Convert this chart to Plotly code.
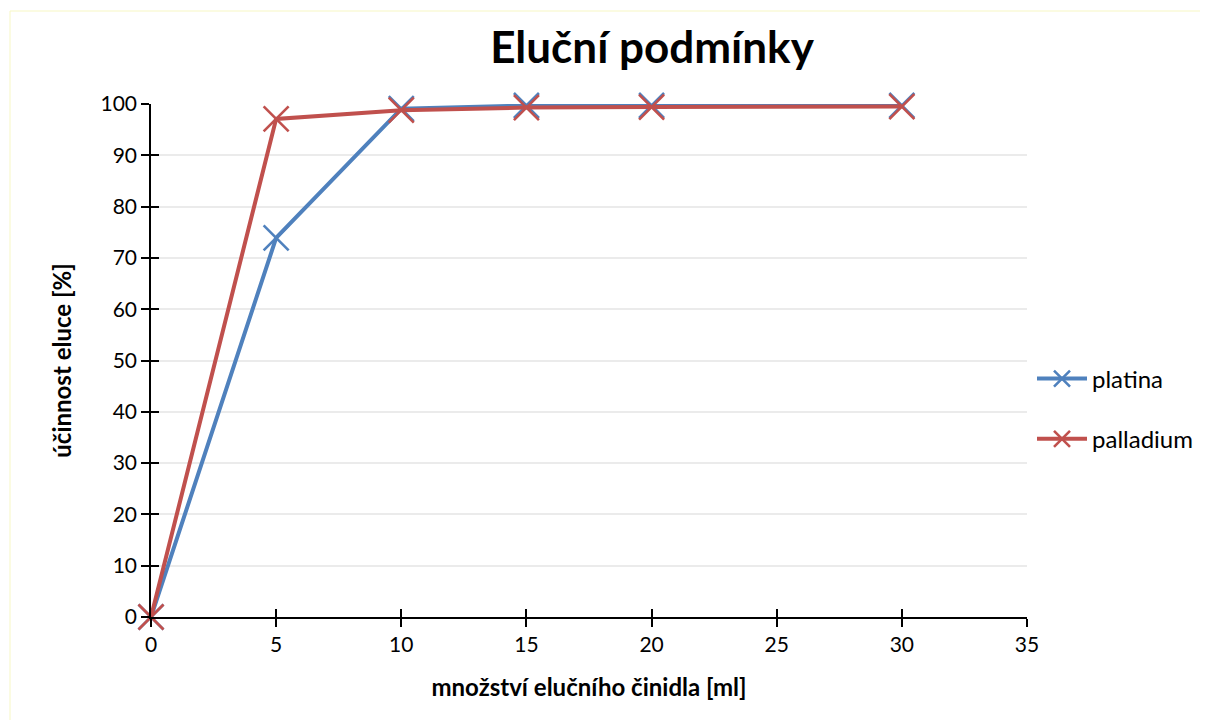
import plotly.graph_objects as go

x_ml = [0, 5, 10, 15, 20, 30]
platina = [0, 73.9, 99.1, 99.7, 99.7, 99.7]
palladium = [0, 97.1, 98.8, 99.3, 99.4, 99.5]
x_ticks = [0, 5, 10, 15, 20, 25, 30, 35]
y_ticks = [0, 10, 20, 30, 40, 50, 60, 70, 80, 90, 100]

BLUE = "#4F81BD"
RED = "#C0504D"
FONT = "Lato"

W, H = 1200, 712
L, R, T, B = 143, 181, 96, 103
PW, PH = W - L - R, H - T - B

def px(xf):
    return (xf - L) / PW

def py(yf):
    return 1 - (yf - T) / PH

fig = go.Figure()
for name, vals, col in [("platina", platina, BLUE), ("palladium", palladium, RED)]:
    fig.add_trace(go.Scatter(
        x=x_ml, y=vals, name=name, mode="lines+markers",
        legendgroup=name,
        line=dict(color=col, width=4),
        marker=dict(symbol="x-thin", size=25, line=dict(color=col, width=2.6)),
        cliponaxis=False,
    ))

# invisible trace so overlay axes (for crossing ticks) render
fig.add_trace(go.Scatter(x=[0], y=[0], xaxis="x2", yaxis="y2", mode="markers",
                         marker=dict(opacity=0), showlegend=False, hoverinfo="skip"))

BORDER = "#F7F7C4"
fig.update_layout(
    width=W, height=H,
    paper_bgcolor="white", plot_bgcolor="white",
    margin=dict(l=L, r=R, t=T, b=B, autoexpand=False),
    font=dict(family=FONT, size=20, color="black"),
    title=dict(text="<b>Eluční podmínky</b>", x=644 / W, xanchor="center",
               y=1 - 40 / H, yanchor="middle", font=dict(size=44, family=FONT)),
    xaxis=dict(range=[0, 35], tickvals=x_ticks, ticks="outside", ticklen=8,
               tickwidth=1.5, tickcolor="black", showline=True, linecolor="black",
               linewidth=1.5, showgrid=False, zeroline=False,
               title=dict(text="<b>množství elučního činidla [ml]</b>",
                          font=dict(size=24), standoff=24),
               tickfont=dict(size=21)),
    yaxis=dict(range=[0, 100], tickvals=y_ticks, ticks="outside", ticklen=8,
               tickwidth=1.5, tickcolor="black", showline=True, linecolor="black",
               linewidth=1.5, showgrid=True, gridcolor="#EBEBEB", gridwidth=1.5,
               zeroline=False,
               title=dict(text="<b>účinnost eluce [%]</b>", font=dict(size=24),
                          standoff=22),
               tickfont=dict(size=21)),
    xaxis2=dict(overlaying="x", anchor="y2", range=[0, 35], tickvals=x_ticks,
                ticks="inside", ticklen=8, tickwidth=1.5, tickcolor="black",
                showticklabels=False, showgrid=False, zeroline=False, showline=False),
    yaxis2=dict(overlaying="y", anchor="x2", range=[0, 100], tickvals=y_ticks,
                ticks="inside", ticklen=8, tickwidth=1.5, tickcolor="black",
                showticklabels=False, showgrid=False, zeroline=False, showline=False),
    legend=dict(x=px(1024), xanchor="left", y=py(401), yanchor="middle",
                tracegroupgap=26, itemwidth=50, font=dict(size=24),
                bgcolor="rgba(0,0,0,0)"),
    shapes=[
        dict(type="line", xref="paper", yref="paper", x0=px(2), x1=px(W + 10),
             y0=py(3), y1=py(3), line=dict(color=BORDER, width=1), layer="below"),
        dict(type="line", xref="paper", yref="paper", x0=px(2), x1=px(2),
             y0=py(3), y1=py(H + 10), line=dict(color=BORDER, width=1), layer="below"),
    ],
)

fig.write_html("out.html")
